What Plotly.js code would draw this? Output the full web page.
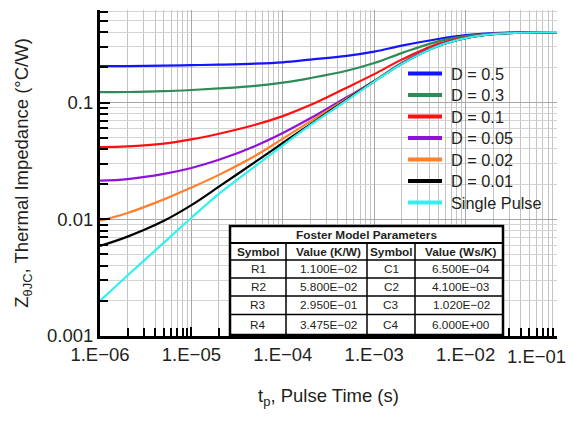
<!DOCTYPE html>
<html>
<head>
<meta charset="utf-8">
<script src="https://cdn.plot.ly/plotly-3.0.1.min.js"></script>
<style>html,body{margin:0;padding:0;background:#fff;}#chart{width:574px;height:422px;}</style>
</head>
<body>
<div id="chart"></div>
<script>
// ---- data ----
const pulseTime = [1e-6, 2e-6, 5e-6, 1e-5, 2e-5, 5e-5, 1e-4, 2e-4, 5e-4, 1e-3, 2e-3, 5e-3, 1e-2, 2e-2, 5e-2, 1e-1];
const zD05 = [0.205, 0.205, 0.207, 0.209, 0.211, 0.215, 0.221, 0.233, 0.251, 0.273, 0.307, 0.350, 0.378, 0.393, 0.399, 0.400];
const zD03 = [0.1225, 0.123, 0.125, 0.128, 0.132, 0.139, 0.148, 0.162, 0.187, 0.218, 0.265, 0.334, 0.370, 0.390, 0.398, 0.400];
const zD01 = [0.0415, 0.0421, 0.0445, 0.0483, 0.0540, 0.0645, 0.0765, 0.095, 0.134, 0.175, 0.233, 0.318, 0.362, 0.388, 0.398, 0.400];
const zD005 = [0.0214, 0.0221, 0.0245, 0.0275, 0.0323, 0.0425, 0.0548, 0.0732, 0.111, 0.152, 0.218, 0.309, 0.358, 0.387, 0.398, 0.400];
const zD002 = [0.0097, 0.0113, 0.0148, 0.0187, 0.024, 0.035, 0.049, 0.069, 0.108, 0.153, 0.216, 0.306, 0.357, 0.386, 0.397, 0.400];
const zD001 = [0.0059, 0.0071, 0.0097, 0.0132, 0.0190, 0.031, 0.045, 0.065, 0.106, 0.152, 0.215, 0.305, 0.356, 0.385, 0.397, 0.400];
const zSingle = [0.0020, 0.0033, 0.0063, 0.0103, 0.0165, 0.0285, 0.043, 0.064, 0.104, 0.151, 0.214, 0.305, 0.356, 0.385, 0.397, 0.400];
const seriesNames = ['D = 0.5', 'D = 0.3', 'D = 0.1', 'D = 0.05', 'D = 0.02', 'D = 0.01', 'Single Pulse'];
const seriesValues = [zD05, zD03, zD01, zD005, zD002, zD001, zSingle];

const xTickVals = [1e-6, 1e-5, 1e-4, 1e-3, 1e-2, 1e-1];
const xTickLabels = ['1.E\u221206', '1.E\u221205', '1.E\u221204', '1.E\u221203', '1.E\u221202', '1.E\u221201'];
const yTickVals = [0.001, 0.01, 0.1];
const yTickLabels = ['0.001', '0.01', '0.1'];

const tableTitle = 'Foster Model Parameters';
const tableHeader = ['Symbol', 'Value (K/W)', 'Symbol', 'Value (Ws/K)'];
const rSymbols = ['R1', 'R2', 'R3', 'R4'];
const rValues = ['1.100E\u221202', '5.800E\u221202', '2.950E\u221201', '3.475E\u221202'];
const cSymbols = ['C1', 'C2', 'C3', 'C4'];
const cValues = ['6.500E\u221204', '4.100E\u221203', '1.020E\u221202', '6.000E+00'];

// ---- styles / geometry ----
const colors = ['#1414ff', '#2e8b57', '#ff1010', '#9012d6', '#ff7f2a', '#000000', '#33f0f0'];
const FONT = 'Liberation Sans, Arial, sans-serif';
const TXT = '#231f20';
const W = 574, H = 422, ML = 100, MR = 17, MT = 10, MB = 86;
const PW = W - ML - MR, PH = H - MT - MB;
const px2x = px => (px - ML) / PW;          // pixel -> paper x
const py2y = py => (H - MB - py) / PH;      // pixel -> paper y

function minorTicks(lo, hi) {
  const out = [];
  for (let e = lo; e < hi; e++) {
    for (let k = 2; k <= 9; k++) out.push(k * Math.pow(10, e));
  }
  return out;
}

const traces = seriesValues.map((vals, i) => ({
  type: 'scatter', mode: 'lines', x: pulseTime, y: vals, name: seriesNames[i],
  line: {color: colors[i], width: 2.2, shape: 'spline', smoothing: 1},
  showlegend: false, hoverinfo: 'skip'
}));

const shapes = [];
const annotations = [];

// ---- legend (drawn by hand to match row spacing) ----
const legBox = {x0: 399, x1: 546, y0: 63, y1: 213};
shapes.push({type: 'rect', xref: 'paper', yref: 'paper', layer: 'between',
  x0: px2x(legBox.x0), x1: px2x(legBox.x1), y0: py2y(legBox.y1), y1: py2y(legBox.y0),
  line: {width: 0}, fillcolor: '#fff'});
seriesNames.forEach((n, i) => {
  const cy = 73.5 + i * 21.5;
  shapes.push({type: 'line', xref: 'paper', yref: 'paper', layer: 'above',
    x0: px2x(408), x1: px2x(442), y0: py2y(cy), y1: py2y(cy),
    line: {color: colors[i], width: 4}});
  annotations.push({xref: 'paper', yref: 'paper', x: px2x(449), y: py2y(cy),
    xanchor: 'left', yanchor: 'middle', showarrow: false, text: n,
    font: {family: FONT, size: 16.3, color: TXT}});
});

// ---- parameter table ----
const colEdges = [230, 286, 367, 415, 503];
const rowEdges = [226, 243, 260, 278, 296, 314.5, 335];
const colCenters = [258, 328, 391, 461];
shapes.push({type: 'rect', xref: 'paper', yref: 'paper', layer: 'above',
  x0: px2x(colEdges[0]), x1: px2x(colEdges[4]), y0: py2y(rowEdges[6]), y1: py2y(rowEdges[0]),
  line: {color: '#000', width: 2.5}, fillcolor: '#fff'});
for (let r = 1; r < rowEdges.length - 1; r++) {
  shapes.push({type: 'line', xref: 'paper', yref: 'paper', layer: 'above',
    x0: px2x(colEdges[0]), x1: px2x(colEdges[4]), y0: py2y(rowEdges[r]), y1: py2y(rowEdges[r]),
    line: {color: '#000', width: r === 1 ? 2 : 1.5}});
}
for (let c = 1; c < colEdges.length - 1; c++) {
  shapes.push({type: 'line', xref: 'paper', yref: 'paper', layer: 'above',
    x0: px2x(colEdges[c]), x1: px2x(colEdges[c]), y0: py2y(rowEdges[6]), y1: py2y(rowEdges[1]),
    line: {color: '#000', width: 1.5}});
}
const rowCenter = r => (rowEdges[r] + rowEdges[r + 1]) / 2;
annotations.push({xref: 'paper', yref: 'paper', x: px2x((colEdges[0] + colEdges[4]) / 2), y: py2y(rowCenter(0)),
  xanchor: 'center', yanchor: 'middle', showarrow: false, text: '<b>' + tableTitle + '</b>',
  font: {family: FONT, size: 11.8, color: TXT}});
tableHeader.forEach((h, c) => annotations.push({xref: 'paper', yref: 'paper', x: px2x(colCenters[c]), y: py2y(rowCenter(1)),
  xanchor: 'center', yanchor: 'middle', showarrow: false, text: '<b>' + h + '</b>',
  font: {family: FONT, size: 11.8, color: TXT}}));
const tableCols = [rSymbols, rValues, cSymbols, cValues];
tableCols.forEach((col, c) => col.forEach((v, r) => annotations.push({xref: 'paper', yref: 'paper',
  x: px2x(colCenters[c]), y: py2y(rowCenter(r + 2)), xanchor: 'center', yanchor: 'middle',
  showarrow: false, text: v, font: {family: FONT, size: 11.8, color: TXT}})));

// last x tick label, nudged inside the page like the reference
annotations.push({xref: 'x', yref: 'paper', x: Math.log10(xTickVals[xTickVals.length - 1]), y: 0,
  yshift: -8, xshift: -21, xanchor: 'center', yanchor: 'top', showarrow: false,
  text: xTickLabels[xTickLabels.length - 1], font: {family: FONT, size: 18.5, color: TXT}});

const layout = {
  width: W, height: H,
  margin: {l: ML, r: MR, t: MT, b: MB},
  paper_bgcolor: '#fff', plot_bgcolor: '#fff',
  font: {family: FONT, color: TXT, size: 16},
  showlegend: false,
  xaxis: {
    type: 'log', range: [-6, -1],
    tickmode: 'array', tickvals: xTickVals.slice(0, -1),
    ticktext: xTickLabels.slice(0, -1),
    showline: true, linecolor: '#000', linewidth: 3, mirror: false,
    ticks: 'inside', ticklen: 9, tickwidth: 2, tickcolor: '#000',
    showgrid: true, gridcolor: '#a8a8a8', gridwidth: 1.2,
    minor: {tickmode: 'array', tickvals: minorTicks(-6, -1).concat([xTickVals[xTickVals.length - 1]]), ticks: 'inside', ticklen: 8, tickwidth: 2, tickcolor: '#000', showgrid: true, gridcolor: '#c4c4c4', gridwidth: 1},
    tickfont: {family: FONT, size: 18.5, color: TXT},
    zeroline: false,
    title: {text: 't<sub>p</sub>, Pulse Time (s)', font: {family: FONT, size: 18.5, color: TXT}, standoff: 25}
  },
  yaxis: {
    type: 'log', range: [-3, Math.log10(0.62)],
    tickmode: 'array', tickvals: yTickVals, ticktext: yTickLabels,
    showline: true, linecolor: '#000', linewidth: 3, mirror: false,
    ticks: 'inside', ticklen: 10, tickwidth: 2, tickcolor: '#000',
    showgrid: true, gridcolor: '#a8a8a8', gridwidth: 1.2,
    minor: {tickmode: 'array', tickvals: minorTicks(-3, 0).filter(v => v < 0.62), ticks: 'inside', ticklen: 8, tickwidth: 2, tickcolor: '#000', showgrid: true, gridcolor: '#d4d4d4', gridwidth: 1},
    tickfont: {family: FONT, size: 18.5, color: TXT},
    zeroline: false,
    title: {text: 'Z<sub>\u03B8JC</sub>, Thermal Impedance (\u00B0C/W)', font: {family: FONT, size: 18.5, color: TXT}, standoff: 14}
  },
  shapes: shapes,
  annotations: annotations
};

Plotly.newPlot('chart', traces, layout, {displayModeBar: false, staticPlot: true});
</script>
</body>
</html>
